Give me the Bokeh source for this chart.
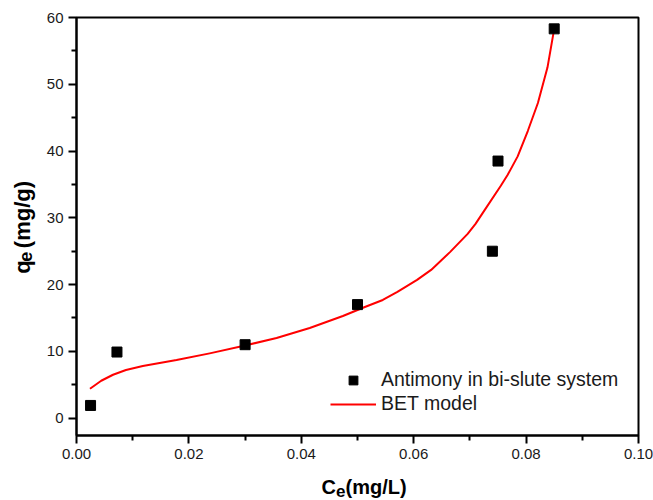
import math
from bokeh.plotting import figure
from bokeh.models import Range1d, FixedTicker, Label, Legend, LegendItem
from bokeh.layouts import column, row
from bokeh.embed import file_html
from bokeh.resources import INLINE

# ---- data ----
ce_points = [0.0025, 0.0072, 0.0300, 0.0500, 0.0740, 0.0750, 0.0850]
qe_points = [1.9, 9.9, 11.0, 17.0, 25.0, 38.5, 58.3]

bet_ce = [0.0024, 0.0044, 0.0065, 0.0088, 0.0118, 0.0178, 0.0237, 0.0296,
          0.0356, 0.0415, 0.0474, 0.0512, 0.0545, 0.0571, 0.0606, 0.0631,
          0.0665, 0.0696, 0.0710, 0.0725, 0.0755, 0.0767, 0.0785, 0.0803,
          0.0821, 0.0838, 0.0850]
bet_qe = [4.4, 5.6, 6.5, 7.2, 7.8, 8.7, 9.7, 10.8,
          12.0, 13.5, 15.3, 16.6, 17.7, 18.9, 20.7, 22.2,
          24.9, 27.6, 29.1, 31.0, 34.8, 36.4, 39.2, 43.0,
          47.2, 52.5, 58.3]

x_ticks = [0.00, 0.02, 0.04, 0.06, 0.08, 0.10]
x_minor = [0.01, 0.03, 0.05, 0.07, 0.09]
x_tick_labels = ["0.00", "0.02", "0.04", "0.06", "0.08", "0.10"]
y_ticks = [0, 10, 20, 30, 40, 50, 60]
y_minor = [5, 15, 25, 35, 45, 55]

series_names = ["Antimony in bi-slute system", "BET model"]

FONT = "Liberation Sans"
TXT = "#1a1a1a"

LEFT_W = 38
MAIN_H = 468
TOTAL_W = 653
TOTAL_H = 500

# ---- main plot ----
p = figure(width=TOTAL_W - LEFT_W, height=MAIN_H, output_backend="svg",
           toolbar_location=None,
           x_range=Range1d(0, 0.1), y_range=Range1d(-2.6, 60),
           min_border_left=38, min_border_right=15, min_border_top=17,
           min_border_bottom=33)
p.grid.visible = False
p.outline_line_color = "black"
p.outline_line_width = 2
p.background_fill_color = "white"
p.border_fill_color = "white"

for ax in (p.xaxis[0], p.yaxis[0]):
    ax.axis_line_width = 2
    ax.major_tick_line_width = 2
    ax.minor_tick_line_width = 2
    ax.major_tick_out = 8
    ax.major_tick_in = 0
    ax.minor_tick_out = 5
    ax.minor_tick_in = 0
    ax.major_label_text_font = FONT
    ax.major_label_text_font_size = "15px"
    ax.major_label_text_color = TXT
    ax.axis_label = None

p.xaxis[0].ticker = FixedTicker(ticks=x_ticks, minor_ticks=x_minor)
p.xaxis[0].major_label_overrides = {t: l for t, l in zip(x_ticks, x_tick_labels)}
p.xaxis[0].major_label_standoff = 5
p.yaxis[0].ticker = FixedTicker(ticks=y_ticks, minor_ticks=y_minor)
p.yaxis[0].major_label_standoff = 5

line_r = p.line(bet_ce, bet_qe, line_color="red", line_width=2,
                line_join="round")
sq_r = p.scatter(ce_points, qe_points, marker="square", size=10,
                 fill_color="black", line_color="black")

legend = Legend(items=[LegendItem(label=series_names[0], renderers=[sq_r]),
                       LegendItem(label=series_names[1], renderers=[line_r])],
                location=(254, 20), border_line_color=None,
                background_fill_alpha=0, padding=0, margin=0, spacing=1,
                glyph_width=46, glyph_height=22, label_height=22,
                label_standoff=5, label_text_font=FONT,
                label_text_font_size="19.5px", label_text_color=TXT)
p.add_layout(legend, "center")


def blank(w, h):
    f = figure(width=w, height=h, output_backend="svg", toolbar_location=None,
               x_range=Range1d(0, w), y_range=Range1d(0, h),
               x_axis_type=None, y_axis_type=None, min_border=0)
    f.grid.visible = False
    f.outline_line_color = None
    f.background_fill_color = "white"
    f.border_fill_color = "white"
    return f


def title_label(x, y, text, size, angle=0.0, align="left"):
    return Label(x=x, y=y, text=text, angle=angle, text_font=FONT,
                 text_font_style="bold", text_font_size=size,
                 text_color="black", text_baseline="alphabetic",
                 text_align=align)


# ---- y-axis title panel: q_e (mg/g) ----
left = blank(LEFT_W, MAIN_H)
left.add_layout(title_label(22, MAIN_H - 287, "q", "22px", math.pi / 2))
left.add_layout(title_label(25, MAIN_H - 273.5, "e", "18px", math.pi / 2))
left.add_layout(title_label(22, MAIN_H - 183, "(mg/g)", "22px", math.pi / 2,
                            align="right"))

# ---- x-axis title panel: C_e(mg/L) ----
BOT_H = TOTAL_H - MAIN_H
bottom = blank(TOTAL_W, BOT_H)
bottom.add_layout(title_label(321, 14, "C", "20px"))
bottom.add_layout(title_label(335.5, 10, "e", "17px"))
bottom.add_layout(title_label(345, 14, "(mg/L)", "20px"))

layout = column(row(left, p, spacing=0), bottom, spacing=0)

open("out.html", "w").write(file_html(layout, INLINE))
